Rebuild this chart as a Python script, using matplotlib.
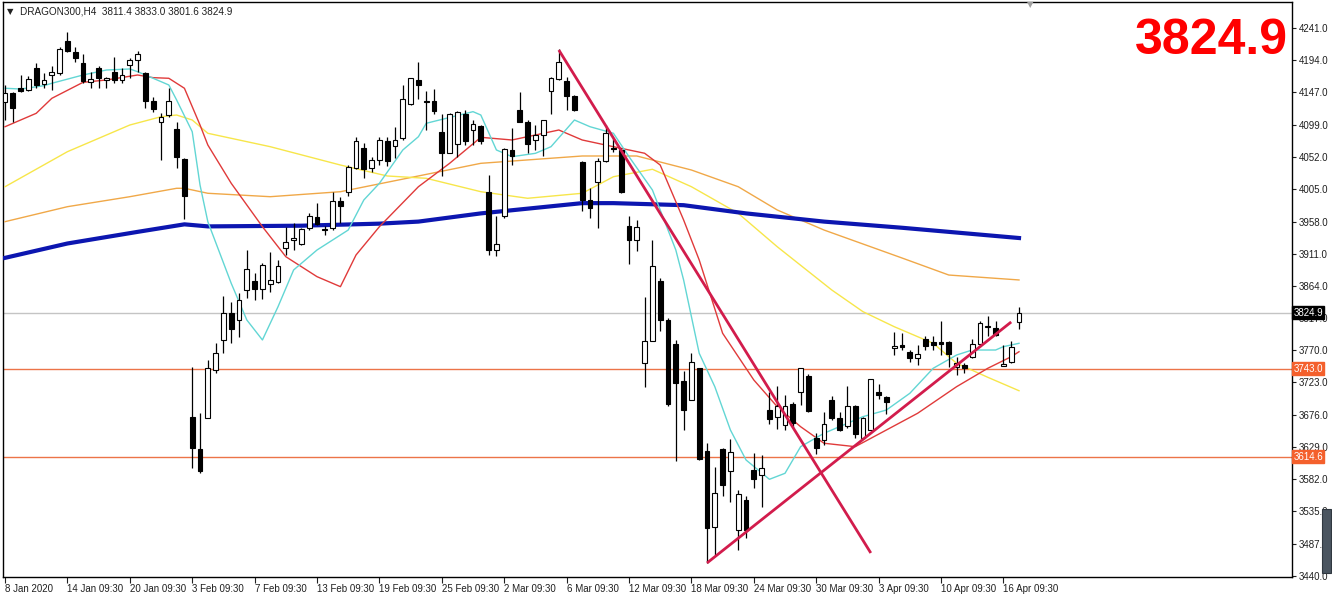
import matplotlib
matplotlib.use("Agg")
import matplotlib.pyplot as plt
from matplotlib.patches import Rectangle

# H4 candles, DRAGON300, 8 Jan 2020 .. 16 Apr 2020
opens = [4133.3, 4145.6, 4153.3, 4150.4, 4182.5, 4159.1, 4172.3, 4175.2, 4222.0, 4205.9,
         4189.8, 4162.1, 4182.5, 4165.0, 4177.1, 4165.0, 4186.9, 4194.2, 4174.5, 4134.3,
         4104.3, 4113.1, 4093.4, 4049.5, 3673.1, 3625.6, 3671.0, 3741.1, 3785.0, 3823.7,
         3814.2, 3857.3, 3870.5, 3859.5, 3866.8, 3869.0, 3919.4, 3931.1, 3925.3, 3948.7,
         3964.8, 3947.0, 3948.7, 3988.1, 4002.0, 4036.4, 4064.9, 4036.4, 4048.1, 4075.8,
         4067.8, 4080.2, 4129.9, 4165.7, 4134.3, 4133.6, 4088.3, 4059.0, 4071.4, 4116.0,
         4091.2, 4097.8, 4002.0, 3916.5, 3965.5, 4062.7, 4121.1, 4104.3, 4076.6, 4084.6,
         4148.2, 4166.5, 4162.8, 4140.9, 4044.4, 3989.6, 4016.6, 4045.9, 4066.0, 4062.0,
         3951.6, 3931.1, 3750.6, 3784.2, 3870.5, 3814.2, 3779.8, 3724.3, 3697.3, 3743.3,
         3622.0, 3512.3, 3625.0, 3592.8, 3507.2, 3551.1, 3594.2, 3587.6, 3681.9, 3673.1,
         3660.7, 3692.1, 3708.2, 3733.0, 3641.0, 3638.1, 3697.3, 3670.2, 3658.5, 3688.5,
         3641.7, 3653.4, 3709.0, 3701.6, 3772.8, 3777.6, 3766.7, 3758.0, 3785.7, 3781.3,
         3781.3, 3781.3, 3745.1, 3748.4, 3760.8, 3779.1, 3804.0, 3803.2, 3747.0, 3753.5,
         3811.4]
highs = [4157.7, 4147.5, 4173.0, 4170.8, 4189.8, 4175.2, 4185.5, 4213.2, 4235.2, 4212.5,
         4203.7, 4176.7, 4185.5, 4170.1, 4197.9, 4181.8, 4197.1, 4206.7, 4177.4, 4140.1,
         4116.8, 4153.3, 4104.3, 4051.0, 3745.5, 3678.3, 3755.7, 3780.6, 3849.3, 3840.5,
         3853.6, 3916.5, 3882.9, 3897.5, 3913.6, 3901.9, 3950.1, 3956.0, 3948.7, 3969.9,
         3984.5, 3951.6, 4001.3, 3994.0, 4040.8, 4081.7, 4072.2, 4052.4, 4081.0, 4081.0,
         4095.6, 4157.7, 4168.0, 4191.3, 4148.9, 4151.1, 4116.0, 4116.8, 4119.0, 4121.1,
         4106.5, 4099.2, 4026.1, 3966.2, 4065.6, 4094.1, 4147.5, 4106.5, 4099.2, 4106.5,
         4169.4, 4209.6, 4169.4, 4143.1, 4045.9, 4006.4, 4050.3, 4099.2, 4078.8, 4065.6,
         3966.2, 3960.4, 3847.1, 3931.1, 3874.9, 3817.1, 3785.0, 3738.9, 3765.2, 3744.0,
         3633.7, 3600.0, 3626.4, 3639.5, 3565.0, 3556.2, 3619.8, 3616.9, 3709.0, 3717.0,
         3704.6, 3693.6, 3744.0, 3735.2, 3648.3, 3679.0, 3703.1, 3679.0, 3717.7, 3690.0,
         3673.1, 3728.0, 3720.6, 3703.1, 3795.9, 3794.5, 3769.6, 3777.6, 3790.1, 3790.8,
         3813.4, 3782.8, 3760.1, 3751.9, 3785.7, 3812.0, 3819.3, 3812.0, 3777.6, 3782.8,
         3833.0]
lows = [4106.5, 4104.0, 4147.5, 4149.0, 4153.3, 4153.3, 4150.4, 4172.3, 4205.2, 4191.3,
        4161.3, 4153.3, 4153.3, 4153.3, 4160.6, 4160.6, 4167.9, 4177.4, 4124.1, 4117.5,
        4048.1, 4111.6, 4036.4, 3961.8, 3597.9, 3590.6, 3671.0, 3736.7, 3766.0, 3780.6,
        3789.4, 3846.3, 3843.4, 3844.9, 3854.4, 3868.0, 3909.2, 3916.5, 3923.8, 3945.7,
        3953.0, 3938.5, 3945.7, 3955.9, 3994.7, 4034.9, 4021.7, 4029.8, 4040.8, 4038.6,
        4050.3, 4077.3, 4128.5, 4137.2, 4091.2, 4116.0, 4024.0, 4057.6, 4052.4, 4070.0,
        4070.0, 4071.4, 3909.2, 3907.7, 3963.3, 4040.8, 4102.9, 4057.6, 4062.7, 4053.2,
        4115.3, 4165.0, 4121.1, 4120.4, 3974.2, 3963.3, 3948.7, 4045.1, 4060.0, 3999.1,
        3896.0, 3914.3, 3715.5, 3782.8, 3797.4, 3688.5, 3607.4, 3652.7, 3697.3, 3609.6,
        3458.3, 3470.7, 3557.0, 3547.4, 3478.0, 3494.8, 3568.7, 3541.3, 3662.2, 3654.2,
        3653.4, 3655.6, 3690.0, 3679.0, 3617.6, 3631.5, 3667.3, 3651.2, 3657.0, 3641.7,
        3639.5, 3652.7, 3698.0, 3676.8, 3763.0, 3770.3, 3753.5, 3748.4, 3769.6, 3770.3,
        3763.0, 3745.6, 3733.8, 3737.4, 3758.0, 3775.5, 3790.1, 3790.1, 3746.2, 3750.6,
        3801.6]
closes = [4145.6, 4124.5, 4149.0, 4166.5, 4157.7, 4165.0, 4177.4, 4210.3, 4206.7, 4197.1,
          4162.8, 4166.5, 4168.6, 4168.4, 4165.0, 4172.3, 4194.2, 4202.3, 4134.3, 4122.6,
          4111.0, 4134.3, 4051.7, 3994.7, 3627.1, 3592.8, 3744.0, 3765.2, 3823.7, 3801.0,
          3844.1, 3888.0, 3858.8, 3894.6, 3872.7, 3893.1, 3928.2, 3933.3, 3946.5, 3966.2,
          3954.5, 3945.0, 3988.1, 3980.8, 4037.1, 4075.8, 4034.9, 4048.1, 4077.3, 4047.3,
          4078.0, 4136.5, 4167.2, 4158.4, 4132.8, 4119.0, 4059.0, 4114.6, 4117.5, 4075.1,
          4100.7, 4075.1, 3916.5, 3925.3, 4063.4, 4053.9, 4104.3, 4071.4, 4084.6, 4105.8,
          4168.6, 4191.3, 4140.9, 4121.1, 3988.9, 3977.2, 4045.9, 4086.8, 4064.0, 4000.6,
          3931.1, 3949.4, 3784.2, 3893.8, 3813.5, 3691.4, 3721.4, 3682.6, 3752.1, 3611.7,
          3509.4, 3560.6, 3573.0, 3620.5, 3559.9, 3507.2, 3581.1, 3597.1, 3668.8, 3688.5,
          3688.5, 3662.9, 3743.3, 3680.8, 3626.4, 3662.2, 3670.2, 3652.7, 3687.8, 3647.6,
          3670.2, 3727.2, 3704.6, 3693.6, 3776.2, 3775.2, 3758.0, 3764.5, 3776.2, 3777.6,
          3779.1, 3764.5, 3751.9, 3743.3, 3779.1, 3810.5, 3805.4, 3792.3, 3749.9, 3774.0,
          3824.9]

# moving averages, read at a few bars
ma_cyan_bars = [0, 2, 5, 6, 10, 13, 16, 17, 18, 21, 22, 24, 25, 26, 29, 31, 33, 35, 37, 40,
                44, 46, 48, 51, 53, 54, 60, 61, 63, 65, 68, 70, 73, 75, 78, 80, 83, 86, 87, 89,
                91, 93, 95, 98, 100, 102, 105, 110, 113, 116, 119, 122, 124, 127, 128, 130]
ma_cyan = [4152.9, 4151.8, 4156.7, 4160.2, 4172.3, 4179.6, 4181.1, 4177.1, 4172.3, 4157.7,
           4135.8, 4089.4, 4011.5, 3957.9, 3867.8, 3814.2, 3785.0, 3833.6, 3887.3, 3916.5,
           3945.7, 3989.6, 4014.0, 4062.7, 4082.1, 4101.7, 4118.7, 4113.8, 4062.7, 4052.9,
           4057.8, 4067.5, 4106.5, 4096.7, 4087.1, 4052.9, 4004.2, 3916.5, 3872.7, 3765.5,
           3716.7, 3653.4, 3609.6, 3581.3, 3590.1, 3629.0, 3648.6, 3672.9, 3682.6, 3707.0,
           3743.6, 3763.0, 3770.3, 3770.3, 3775.2, 3780.1]

ma_red_bars = [0, 4, 6, 10, 13, 17, 19, 21, 23, 25, 26, 29, 33, 36, 40, 43, 45, 48, 53, 57,
               61, 65, 71, 74, 78, 82, 84, 87, 89, 92, 96, 99, 102, 105, 109, 113, 117, 122,
               126, 129, 130]
ma_red = [4096.7, 4116.3, 4138.2, 4161.6, 4165.0, 4172.3, 4168.4, 4167.5, 4152.9, 4099.2,
          4070.0, 4014.0, 3950.6, 3906.7, 3877.5, 3862.9, 3909.2, 3950.6, 4009.0, 4043.2,
          4081.2, 4077.3, 4091.9, 4077.3, 4067.5, 4057.9, 4040.7, 3960.4, 3901.9, 3794.8,
          3726.5, 3687.5, 3658.2, 3634.0, 3629.0, 3653.4, 3677.8, 3716.7, 3743.6, 3760.5,
          3767.8]

ma_yellow_bars = [0, 8, 16, 20, 22, 24, 26, 34, 43, 49, 54, 61, 67, 74, 78, 83, 88, 94, 99,
                  106, 110, 114, 119, 122, 126, 130]
ma_yellow = [4009.0, 4060.2, 4099.2, 4111.3, 4113.8, 4106.5, 4087.1, 4067.5, 4040.7, 4024.7,
             4021.3, 4001.7, 3992.1, 3999.4, 4023.6, 4034.5, 4009.0, 3970.1, 3921.3, 3858.0,
             3826.3, 3804.4, 3780.1, 3750.9, 3730.4, 3710.8]

ma_orange_bars = [0, 8, 16, 22, 23, 26, 34, 43, 53, 61, 74, 81, 88, 94, 99, 105, 115, 121, 130]
ma_orange = [3957.9, 3979.8, 3994.4, 4006.7, 4006.7, 3999.4, 3994.4, 4001.7, 4024.7, 4043.2,
             4053.9, 4053.9, 4033.4, 4009.0, 3975.0, 3945.7, 3904.8, 3879.9, 3872.7]

ma_blue_bars = [0, 8, 17, 23, 26, 38, 48, 53, 61, 74, 78, 87, 95, 105, 115, 130]
ma_blue = [3905.0, 3926.0, 3943.0, 3954.0, 3951.0, 3952.0, 3955.0, 3958.0, 3970.0, 3985.0,
           3985.0, 3982.0, 3970.0, 3958.0, 3949.0, 3934.0]

# hand drawn trend lines (bar, price)
trend_down = [(71, 4208.8), (111, 3473.6)]
trend_up = [(90, 3459.0), (129, 3811.3)]

# horizontal levels
last_price = 3824.9
levels = [3743.0, 3614.6]

y_ticks = [4241.0, 4194.0, 4147.0, 4099.0, 4052.0, 4005.0, 3958.0, 3911.0, 3864.0, 3817.0,
           3770.0, 3723.0, 3676.0, 3629.0, 3582.0, 3535.0, 3487.0, 3440.0]
x_tick_bars = [0, 8, 16, 24, 32, 40, 48, 56, 64, 72, 80, 88, 96, 104, 112, 120, 128]
x_tick_labels = ["8 Jan 2020", "14 Jan 09:30", "20 Jan 09:30", "3 Feb 09:30", "7 Feb 09:30",
                 "13 Feb 09:30", "19 Feb 09:30", "25 Feb 09:30", "2 Mar 09:30", "6 Mar 09:30",
                 "12 Mar 09:30", "18 Mar 09:30", "24 Mar 09:30", "30 Mar 09:30", "3 Apr 09:30",
                 "10 Apr 09:30", "16 Apr 09:30"]

SMALL = "Liberation Sans"


def draw_candles(ax):
    # wicks first, then bodies on top
    n = len(opens)
    ax.vlines(range(n), lows, highs, color="black", linewidth=0.9, zorder=5)
    for i in range(n):
        o, c = opens[i], closes[i]
        bottom = min(o, c)
        height = max(abs(c - o), 1.2)
        face = "white" if c >= o else "black"
        ax.add_patch(Rectangle((i - 0.3, bottom), 0.6, height, facecolor=face,
                               edgecolor="black", linewidth=0.8, zorder=6))


def draw_lines(ax):
    ax.plot(ma_orange_bars, ma_orange, color="#f0a848", linewidth=1.0, zorder=3)
    ax.plot(ma_yellow_bars, ma_yellow, color="#f7e64a", linewidth=1.0, zorder=3)
    ax.plot(ma_blue_bars, ma_blue, color="#0c16b0", linewidth=3.0, zorder=3)
    ax.plot(ma_red_bars, ma_red, color="#e03a3a", linewidth=1.0, zorder=4)
    ax.plot(ma_cyan_bars, ma_cyan, color="#62d6d4", linewidth=1.0, zorder=4)

    for line in (trend_down, trend_up):
        ax.plot([p[0] for p in line], [p[1] for p in line], color="#d21c4c",
                linewidth=2.0, zorder=7, solid_capstyle="butt")

    ax.axhline(last_price, color="#c4c4c4", linewidth=1.0, zorder=2)
    for lv in levels:
        ax.axhline(lv, color="#ec7448", linewidth=1.0, zorder=2)


def price_tags(ax):
    # coloured boxes on the price scale
    trans = ax.get_yaxis_transform()
    ax.text(1.001, last_price, "%.1f" % last_price, transform=trans, fontsize=7,
            family=SMALL, color="white", va="center", ha="left", zorder=10,
            bbox=dict(boxstyle="square,pad=0.15", facecolor="black", edgecolor="black"))
    for lv in levels:
        ax.text(1.001, lv, "%.1f" % lv, transform=trans, fontsize=7, family=SMALL,
                color="white", va="center", ha="left", zorder=10,
                bbox=dict(boxstyle="square,pad=0.15", facecolor="#f4602c", edgecolor="#f4602c"))


if __name__ == '__main__':
    fig = plt.figure(figsize=(13.32, 6.0), dpi=100)
    ax = fig.add_axes([3 / 1332, 23 / 600, 1289 / 1332, 575 / 600])

    draw_lines(ax)
    draw_candles(ax)

    ax.set_xlim(-0.26, 165.0)
    ax.set_ylim(3438.5, 4279.0)

    ax.yaxis.tick_right()
    ax.set_yticks(y_ticks)
    ax.set_yticklabels(["%.1f" % v for v in y_ticks], family=SMALL)
    ax.tick_params(axis="y", direction="out", length=3, width=0.8, pad=2,
                   labelsize=7, colors="#202020")
    ax.set_xticks(x_tick_bars)
    ax.set_xticklabels(x_tick_labels, ha="left", family=SMALL)
    ax.tick_params(axis="x", direction="out", length=4, width=0.8, pad=1,
                   labelsize=7, colors="#202020")

    for sp in ax.spines.values():
        sp.set_linewidth(1.0)
        sp.set_color("black")

    price_tags(ax)

    # header and big price
    fig.text(7 / 1332, 1 - 12 / 600, "\u25bc", fontsize=6, color="#202020",
             va="center", ha="left")
    fig.text(20 / 1332, 1 - 12 / 600, "DRAGON300,H4  3811.4 3833.0 3801.6 3824.9",
             fontsize=7.2, family=SMALL, color="#202020", va="center", ha="left")
    fig.text(1288 / 1332, 1 - 54 / 600, "3824.9", fontsize=36, fontweight="bold",
             color="#ff0000", ha="right", va="baseline", family="Liberation Sans")

    # chart shift marker on the top edge
    fig.text(1030 / 1332, 1 - 5 / 600, "\u25bc", fontsize=6, color="#a0a0a0",
             va="center", ha="center")

    # little scroll widget at the lower right
    fig.patches.append(Rectangle((1322 / 1332, 27 / 600), 9 / 1332, 64 / 600,
                                 transform=fig.transFigure, facecolor="#4a5560",
                                 edgecolor="#303840", linewidth=0.8))

    plt.savefig("out.png", dpi=100)
